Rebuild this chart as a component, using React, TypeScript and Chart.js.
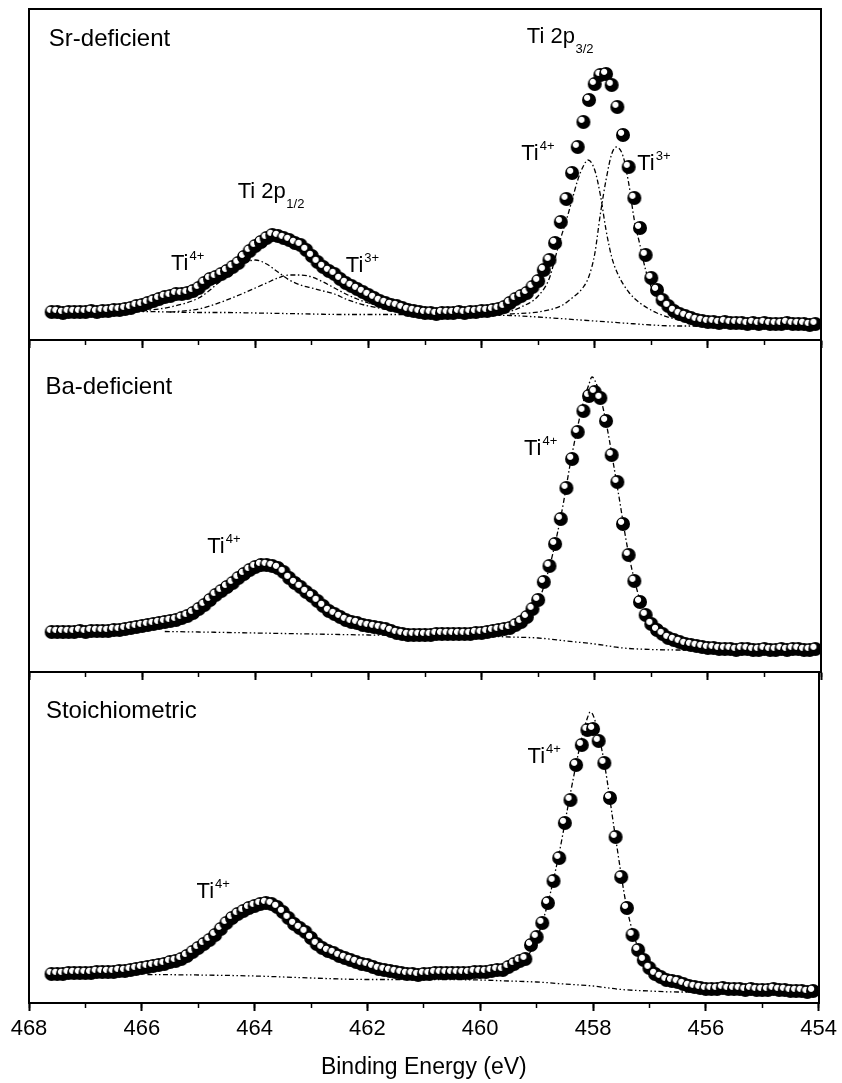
import { useEffect, useRef } from 'react';
import { Chart, registerables } from 'chart.js';

Chart.register(...registerables);

// ---------- data (binding energy in eV, intensity in arbitrary units) ----------
const ENERGY = [
  467.6, 467.5, 467.4, 467.3, 467.2, 467.1, 467.0, 466.9, 466.8, 466.7,
  466.6, 466.5, 466.4, 466.3, 466.2, 466.1, 466.0, 465.9, 465.8, 465.7,
  465.6, 465.5, 465.4, 465.3, 465.2, 465.1, 465.0, 464.9, 464.8, 464.7,
  464.6, 464.5, 464.4, 464.3, 464.2, 464.1, 464.0, 463.9, 463.8, 463.7,
  463.6, 463.5, 463.4, 463.3, 463.2, 463.1, 463.0, 462.9, 462.8, 462.7,
  462.6, 462.5, 462.4, 462.3, 462.2, 462.1, 462.0, 461.9, 461.8, 461.7,
  461.6, 461.5, 461.4, 461.3, 461.2, 461.1, 461.0, 460.9, 460.8, 460.7,
  460.6, 460.5, 460.4, 460.3, 460.2, 460.1, 460.0, 459.9, 459.8, 459.7,
  459.6, 459.5, 459.4, 459.3, 459.2, 459.1, 459.0, 458.9, 458.8, 458.7,
  458.6, 458.5, 458.4, 458.3, 458.2, 458.1, 458.0, 457.9, 457.8, 457.7,
  457.6, 457.5, 457.4, 457.3, 457.2, 457.1, 457.0, 456.9, 456.8, 456.7,
  456.6, 456.5, 456.4, 456.3, 456.2, 456.1, 456.0, 455.9, 455.8, 455.7,
  455.6, 455.5, 455.4, 455.3, 455.2, 455.1, 455.0, 454.9, 454.8, 454.7,
  454.6, 454.5, 454.4, 454.3, 454.2, 454.1,
];

const SR_COUNTS = [
  28, 28, 27, 28, 28, 28, 28, 29, 28, 29,
  29, 30, 30, 31, 32, 34, 35, 37, 39, 41,
  43, 44, 46, 46, 47, 49, 52, 57, 61, 63,
  66, 69, 73, 77, 83, 89, 94, 98, 102, 105,
  104, 102, 100, 97, 95, 90, 84, 78, 73, 69,
  66, 61, 57, 54, 51, 48, 45, 42, 39, 37,
  35, 34, 32, 30, 29, 28, 27, 27, 26, 27,
  27, 27, 28, 27, 28, 28, 29, 29, 30, 31,
  33, 37, 41, 44, 47, 53, 59, 70, 80, 97,
  118, 141, 167, 193, 218, 240, 256, 265, 266, 255,
  233, 205, 173, 142, 112, 85, 62, 50, 40, 34,
  29, 26, 24, 22, 20, 19, 18, 18, 17, 18,
  17, 17, 17, 16, 17, 16, 17, 16, 16, 16,
  17, 16, 16, 16, 15, 16,
];

const BA_COUNTS = [
  40, 40, 40, 40, 40, 41, 40, 41, 41, 41,
  41, 42, 42, 43, 44, 45, 46, 47, 48, 49,
  50, 51, 52, 54, 56, 59, 63, 67, 72, 77,
  81, 85, 89, 94, 98, 102, 105, 107, 107, 106,
  104, 100, 94, 89, 85, 80, 76, 71, 66, 61,
  58, 55, 52, 50, 49, 47, 46, 45, 44, 43,
  41, 39, 38, 37, 37, 37, 37, 37, 38, 38,
  38, 38, 38, 38, 38, 39, 39, 40, 41, 42,
  43, 44, 47, 50, 55, 63, 72, 90, 106, 128,
  153, 184, 213, 240, 261, 276, 280, 274, 251, 217,
  190, 148, 117, 91, 70, 57, 48, 42, 38, 34,
  32, 30, 28, 27, 26, 25, 24, 24, 23, 23,
  23, 22, 23, 23, 22, 22, 23, 22, 22, 23,
  22, 23, 23, 22, 22, 23,
];

const ST_COUNTS = [
  29, 29, 29, 30, 30, 30, 30, 30, 31, 31,
  31, 31, 32, 32, 33, 34, 35, 36, 37, 38,
  39, 41, 42, 44, 47, 51, 55, 59, 63, 68,
  74, 80, 85, 89, 92, 95, 97, 99, 100, 99,
  96, 91, 85, 79, 75, 71, 65, 59, 55, 52,
  50, 47, 45, 43, 41, 39, 38, 36, 34, 33,
  32, 31, 30, 29, 29, 28, 29, 29, 30, 30,
  30, 30, 30, 30, 30, 31, 31, 31, 32, 33,
  33, 36, 39, 42, 44, 58, 66, 80, 100, 122,
  145, 180, 203, 238, 258, 273, 274, 262, 240, 205,
  166, 126, 95, 68, 53, 43, 35, 29, 26, 23,
  22, 21, 19, 17, 16, 15, 14, 14, 14, 15,
  14, 14, 14, 13, 14, 13, 13, 13, 14, 13,
  13, 12, 12, 12, 11, 12,
];

// Sr-deficient fitted curves
const SR_BG_X = [466.4, 466.0, 465.5, 465.0, 464.5, 464.0, 463.5, 463.0, 462.5, 462.0, 461.5, 461.0, 460.5, 460.0, 459.5, 459.0, 458.5, 458.0, 457.5, 457.0, 456.5, 456.0, 455.6];
const SR_BG_Y = [28.5, 28.5, 28, 27.5, 27.5, 27, 26.5, 26, 25.5, 25.5, 25.5, 25.5, 25.5, 25, 24.5, 23, 21, 19, 17, 15, 14, 14, 14];

const SR_TI4_A_X = [466.0, 465.5, 465.0, 464.8, 464.6, 464.4, 464.2, 464.0, 463.8, 463.6, 463.4, 463.2, 463.0, 462.8, 462.6, 462.4, 462.2, 462.0, 461.6, 461.0];
const SR_TI4_A_Y = [29, 33, 42, 50, 60, 70, 77, 80, 76, 68, 60, 55, 52, 49, 46, 41, 37, 34, 30, 27];

const SR_TI3_A_X = [465.5, 465.0, 464.6, 464.2, 464.0, 463.8, 463.6, 463.4, 463.2, 463.0, 462.8, 462.6, 462.4, 462.2, 462.0, 461.6, 461.2, 460.8];
const SR_TI3_A_Y = [28, 31, 38, 47, 52, 57, 62, 65, 65, 63, 58, 52, 46, 41, 37, 32, 29, 27];

const SR_TI4_B_X = [460.0, 459.6, 459.3, 459.0, 458.8, 458.7, 458.6, 458.5, 458.4, 458.3, 458.2, 458.12, 458.0, 457.9, 457.8, 457.7, 457.6, 457.4, 457.2, 456.9, 456.5, 456.0];
const SR_TI4_B_Y = [25, 27, 33, 44, 62, 82, 102, 120, 140, 160, 174, 180, 170, 145, 110, 83, 67, 48, 37, 27, 20, 16];

const SR_TI3_B_X = [459.5, 459.0, 458.6, 458.4, 458.2, 458.1, 458.0, 457.9, 457.8, 457.7, 457.62, 457.5, 457.4, 457.3, 457.2, 457.1, 457.0, 456.8, 456.6, 456.3, 456.0];
const SR_TI3_B_Y = [26, 28, 34, 42, 53, 64, 86, 126, 160, 186, 193, 184, 157, 120, 95, 70, 53, 37, 27, 19, 16];

// Ba-deficient fitted curves
const BA_BG_X = [465.6, 465.0, 464.0, 463.0, 462.0, 461.0, 460.0, 459.5, 459.0, 458.5, 458.0, 457.5, 457.0, 456.5, 456.0];
const BA_BG_Y = [40.5, 40, 39, 38, 37, 36.5, 36, 35, 34, 31, 28, 24, 22.5, 22, 22];

const FIT_X = [466.5, 466.0, 465.5, 465.0, 464.6, 464.2, 463.8, 463.4, 463.0, 462.6, 462.2, 461.8, 461.4, 461.0, 460.5, 460.0, 459.5, 459.2, 459.0, 458.8, 458.6, 458.4, 458.2, 458.1, 458.05, 458.0, 457.9, 457.8, 457.6, 457.4, 457.2, 457.0, 456.8, 456.6, 456.4, 456.0, 455.5];
const BA_FIT_Y = [42, 45, 50, 62, 80, 97, 106, 95, 76, 58, 48, 43, 39, 38, 38, 39, 44, 54, 70, 105, 155, 218, 270, 288, 295, 292, 275, 250, 185, 118, 72, 48, 37, 31, 28, 24, 23];

// Stoichiometric fitted curves
const ST_BG_X = [465.9, 465.0, 464.0, 463.0, 462.0, 461.0, 460.0, 459.5, 459.0, 458.5, 458.0, 457.5, 457.0, 456.5, 456.0];
const ST_BG_Y = [28.5, 28, 27, 25, 23.5, 23.5, 23, 22, 21, 19, 17, 13.5, 12, 11, 11];
const ST_FIT_Y = [31, 34, 40, 54, 73, 91, 99, 86, 66, 50, 41, 34, 30, 29, 29, 30, 34, 44, 64, 100, 150, 210, 265, 285, 291, 288, 268, 240, 165, 95, 55, 35, 25, 20, 17, 14, 13];

// Axis
const X_MIN = 454;
const X_MAX = 468;
const X_MAJOR_STEP = 2;
const X_MINOR_STEP = 1;
const X_TITLE = 'Binding Energy (eV)';

// Text labels (anchored in data coordinates)
type Label = { x: number; y: number; text: string; size: number; sup?: string; sub?: string };
const LABELS_SR: Label[] = [
  { x: 467.65, y: 294, text: 'Sr-deficient', size: 24 },
  { x: 464.31, y: 142, text: 'Ti 2p', sub: '1/2', size: 22 },
  { x: 459.2, y: 297, text: 'Ti 2p', sub: '3/2', size: 22 },
  { x: 465.49, y: 70, text: 'Ti', sup: '4+', size: 22 },
  { x: 462.4, y: 68, text: 'Ti', sup: '3+', size: 22 },
  { x: 459.3, y: 180, text: 'Ti', sup: '4+', size: 22 },
  { x: 457.25, y: 170, text: 'Ti', sup: '3+', size: 22 },
];
const LABELS_BA: Label[] = [
  { x: 467.71, y: 278, text: 'Ba-deficient', size: 24 },
  { x: 464.85, y: 119, text: 'Ti', sup: '4+', size: 22 },
  { x: 459.25, y: 217, text: 'Ti', sup: '4+', size: 22 },
];
const LABELS_ST: Label[] = [
  { x: 467.7, y: 285, text: 'Stoichiometric', size: 24 },
  { x: 465.03, y: 105, text: 'Ti', sup: '4+', size: 22 },
  { x: 459.16, y: 240, text: 'Ti', sup: '4+', size: 22 },
];

// ---------- layout / style ----------
const W = 842;
const H = 1083;
const FONT = '"Liberation Sans", Arial, Helvetica, sans-serif';
const PANELS = [
  { top: 9, bottom: 340 },
  { top: 340, bottom: 672 },
  { top: 672, bottom: 1003 },
];
const PAD_LEFT = 29;
const PAD_RIGHT = 21;
const DASH_DOT = [5, 2.5, 1.5, 2.5];
const DASH_DOT_DOT = [5, 2.5, 1.5, 2.5, 1.5, 2.5];

function makeBall(): HTMLCanvasElement {
  const c = document.createElement('canvas');
  c.width = 16;
  c.height = 16;
  const g = c.getContext('2d')!;
  g.beginPath();
  g.arc(8, 8, 7, 0, Math.PI * 2);
  g.fillStyle = '#000';
  g.fill();
  const hx = 6.1;
  const hy = 5.8;
  const rg = g.createRadialGradient(hx, hy, 0, hx, hy, 3.6);
  rg.addColorStop(0, '#fff');
  rg.addColorStop(0.72, '#fff');
  rg.addColorStop(1, 'rgba(255,255,255,0)');
  g.fillStyle = rg;
  g.beginPath();
  g.arc(hx, hy, 3.6, 0, Math.PI * 2);
  g.fill();
  return c;
}

function makeLabelPlugin(items: Label[]) {
  return {
    id: 'panelLabels',
    afterDatasetsDraw(chart: any) {
      const { ctx } = chart;
      const xs = chart.scales.x;
      const ys = chart.scales.y;
      ctx.save();
      ctx.fillStyle = '#000';
      ctx.textBaseline = 'alphabetic';
      ctx.textAlign = 'left';
      for (const it of items) {
        const px = xs.getPixelForValue(it.x);
        const py = ys.getPixelForValue(it.y);
        ctx.font = `${it.size}px ${FONT}`;
        ctx.fillText(it.text, px, py);
        const w = ctx.measureText(it.text).width;
        if (it.sup) {
          ctx.font = `13px ${FONT}`;
          ctx.fillText(it.sup, px + w + 1, py - 10);
        }
        if (it.sub) {
          ctx.font = `13px ${FONT}`;
          ctx.fillText(it.sub, px + w + 0.5, py + 9.5);
        }
      }
      ctx.restore();
    },
  };
}

function pts(xs: number[], ys: number[]) {
  return xs.map((x, i) => ({ x, y: ys[i] }));
}

function curve(xs: number[], ys: number[], dash: number[]) {
  return {
    data: pts(xs, ys),
    showLine: true,
    pointRadius: 0,
    borderColor: '#000',
    borderWidth: 1.3,
    borderDash: dash,
    cubicInterpolationMode: 'monotone',
    fill: false,
    order: 1,
  };
}

function buildConfig(idx: number, counts: number[], curves: any[], labels: Label[], ball: HTMLCanvasElement): any {
  const p = PANELS[idx];
  const last = idx === PANELS.length - 1;
  const majorH = last ? 78 : 10;
  const scales: any = {
    xMinor: {
      type: 'linear',
      position: 'bottom',
      weight: 0,
      min: X_MIN,
      max: X_MAX,
      reverse: true,
      ticks: { display: false, stepSize: X_MINOR_STEP },
      grid: { display: true, drawOnChartArea: false, drawTicks: true, tickLength: 5, tickWidth: 1.5, tickColor: '#000' },
      border: { display: false },
      afterFit: (s: any) => { s.height = 0; },
    },
    x: {
      type: 'linear',
      position: 'bottom',
      weight: 1,
      min: X_MIN,
      max: X_MAX,
      reverse: true,
      ticks: {
        display: last,
        stepSize: X_MAJOR_STEP,
        padding: 5,
        color: '#000',
        autoSkip: false,
        maxRotation: 0,
        font: { family: FONT, size: 22, lineHeight: 1.2 },
      },
      grid: { display: true, drawOnChartArea: false, drawTicks: true, tickLength: 8, tickWidth: 2, tickColor: '#000' },
      border: { display: true, width: 2, color: '#000' },
      title: {
        display: last,
        text: X_TITLE,
        color: '#000',
        padding: 0,
        font: { family: FONT, size: 23, lineHeight: 1.2 },
      },
      afterFit: (s: any) => { s.height = majorH; },
    },
    y: {
      type: 'linear',
      position: 'left',
      min: 0,
      max: p.bottom - p.top,
      ticks: { display: false },
      grid: { display: false },
      border: { display: true, width: 2, color: '#000' },
      afterFit: (s: any) => { s.width = 0; },
    },
    yRight: {
      type: 'linear',
      position: 'right',
      ticks: { display: false },
      grid: { display: false },
      border: { display: true, width: 2, color: '#000' },
      afterFit: (s: any) => { s.width = 0; },
    },
  };
  if (idx === 0) {
    scales.xTop = {
      type: 'linear',
      position: 'top',
      ticks: { display: false },
      grid: { display: false },
      border: { display: true, width: 2, color: '#000' },
      afterFit: (s: any) => { s.height = 0; },
    };
  }
  return {
    type: 'scatter',
    data: {
      datasets: [
        {
          data: pts(ENERGY, counts),
          showLine: false,
          pointStyle: ball,
          pointRadius: 7,
          pointHoverRadius: 7,
          order: 0,
        },
        ...curves,
      ],
    },
    options: {
      responsive: false,
      animation: false,
      devicePixelRatio: 1,
      events: [],
      layout: {
        autoPadding: false,
        padding: { left: PAD_LEFT, right: PAD_RIGHT, top: p.top, bottom: H - p.bottom - majorH },
      },
      plugins: { legend: { display: false }, title: { display: false }, tooltip: { enabled: false } },
      scales,
    },
    plugins: [makeLabelPlugin(labels)],
  };
}

export default function App() {
  const r1 = useRef<HTMLCanvasElement>(null);
  const r2 = useRef<HTMLCanvasElement>(null);
  const r3 = useRef<HTMLCanvasElement>(null);

  useEffect(() => {
    const ball = makeBall();
    const charts = [
      new Chart(
        r1.current!,
        buildConfig(
          0,
          SR_COUNTS,
          [
            curve(SR_BG_X, SR_BG_Y, DASH_DOT_DOT),
            curve(SR_TI4_A_X, SR_TI4_A_Y, DASH_DOT),
            curve(SR_TI3_A_X, SR_TI3_A_Y, DASH_DOT),
            curve(SR_TI4_B_X, SR_TI4_B_Y, DASH_DOT),
            curve(SR_TI3_B_X, SR_TI3_B_Y, DASH_DOT),
          ],
          LABELS_SR,
          ball,
        ),
      ),
      new Chart(
        r2.current!,
        buildConfig(
          1,
          BA_COUNTS,
          [curve(BA_BG_X, BA_BG_Y, DASH_DOT_DOT), curve(FIT_X, BA_FIT_Y, DASH_DOT)],
          LABELS_BA,
          ball,
        ),
      ),
      new Chart(
        r3.current!,
        buildConfig(
          2,
          ST_COUNTS,
          [curve(ST_BG_X, ST_BG_Y, DASH_DOT_DOT), curve(FIT_X, ST_FIT_Y, DASH_DOT)],
          LABELS_ST,
          ball,
        ),
      ),
    ];
    return () => charts.forEach((c) => c.destroy());
  }, []);

  const cs: any = { position: 'absolute', left: 0, top: 0 };
  return (
    <div style={{ position: 'absolute', left: 0, top: 0, width: W, height: H, background: '#fff', overflow: 'hidden' }}>
      <canvas ref={r1} width={W} height={H} style={cs} />
      <canvas ref={r2} width={W} height={H} style={cs} />
      <canvas ref={r3} width={W} height={H} style={cs} />
    </div>
  );
}
